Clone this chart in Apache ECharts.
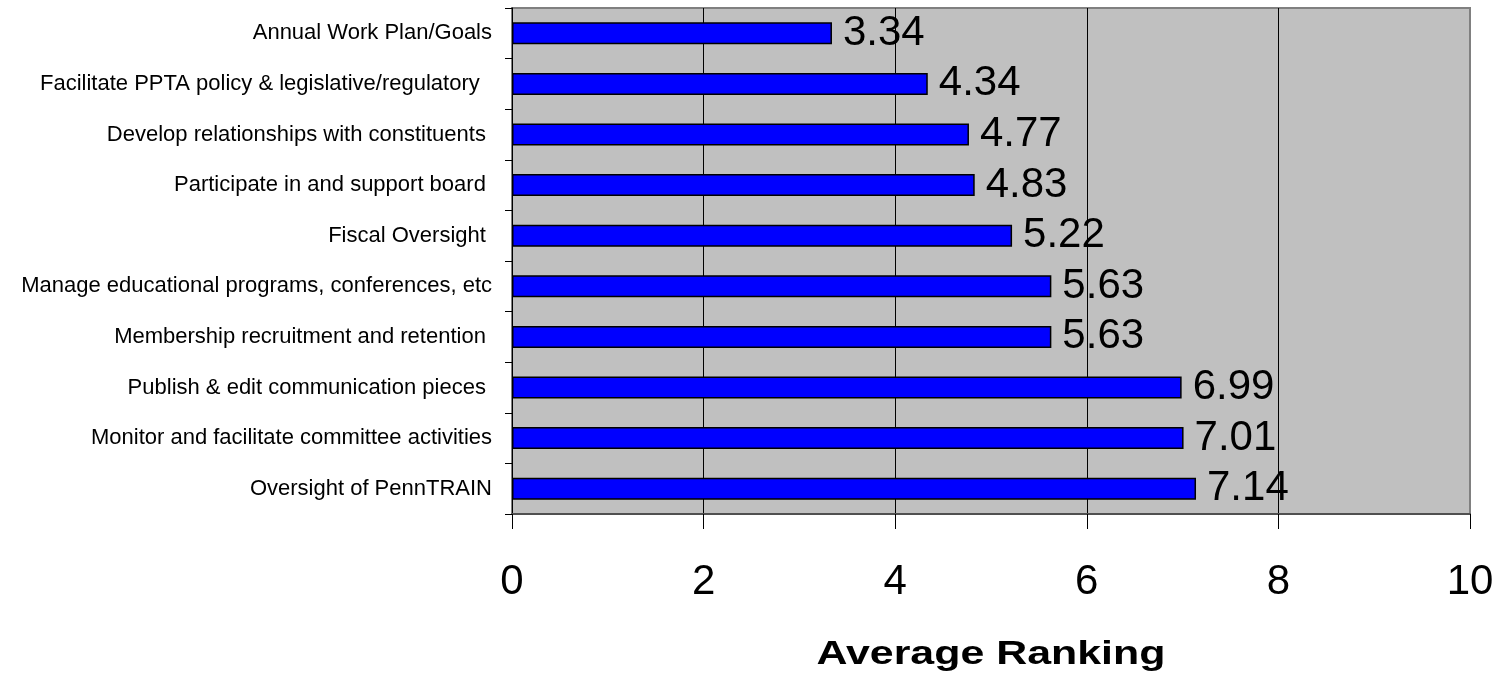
<!DOCTYPE html>
<html>
<head>
<meta charset="utf-8">
<script src="https://cdn.jsdelivr.net/npm/echarts@6/dist/echarts.min.js"></script>
<style>
  html, body { margin: 0; padding: 0; background: #ffffff; }
  #chart { width: 1499px; height: 681px; }
</style>
</head>
<body>
<div id="chart"></div>
<script>
// Duties, listed top to bottom
const categories = [
  'Annual Work Plan/Goals',
  'Facilitate PPTA policy & legislative/regulatory  ',
  'Develop relationships with constituents ',
  'Participate in and support board ',
  'Fiscal Oversight ',
  'Manage educational programs, conferences, etc',
  'Membership recruitment and retention ',
  'Publish & edit communication pieces ',
  'Monitor and facilitate committee activities',
  'Oversight of PennTRAIN'
];

// Average ranking for each duty
const averageRanking = [3.34, 4.34, 4.77, 4.83, 5.22, 5.63, 5.63, 6.99, 7.01, 7.14];

// Value axis ticks
const xTicks = [0, 2, 4, 6, 8, 10];

const axisTitle = 'Average Ranking';

const FONT = '"Liberation Sans", Arial, Helvetica, sans-serif';
const W = 1499, H = 681;
const grid = { left: 512, right: 29, top: 8, bottom: 167 };
const plotCenterX = grid.left + (W - grid.left - grid.right) / 2;

const chart = echarts.init(document.getElementById('chart'), null, { renderer: 'canvas' });

chart.setOption({
  animation: false,
  backgroundColor: '#ffffff',
  grid: {
    left: grid.left,
    right: grid.right,
    top: grid.top,
    bottom: grid.bottom,
    containLabel: false,
    outerBoundsMode: 'none',
    show: true,
    backgroundColor: '#c0c0c0',
    borderColor: '#808080',
    borderWidth: 2
  },
  xAxis: {
    type: 'value',
    min: xTicks[0],
    max: xTicks[xTicks.length - 1],
    interval: xTicks[1] - xTicks[0],
    axisLine: { show: true, lineStyle: { color: '#505050', width: 2 } },
    axisTick: { show: true, length: 15, lineStyle: { color: '#000000', width: 1 } },
    axisLabel: {
      margin: 47,
      fontSize: 42,
      fontFamily: FONT,
      color: '#000000'
    },
    splitLine: {
      show: true,
      showMinLine: false,
      showMaxLine: false,
      lineStyle: { color: '#000000', width: 1 }
    }
  },
  yAxis: {
    type: 'category',
    inverse: true,
    data: categories,
    axisLine: { show: true, lineStyle: { color: '#000000', width: 1 } },
    axisTick: { show: true, length: 7, lineStyle: { color: '#000000', width: 1 } },
    axisLabel: {
      margin: 20,
      fontSize: 22,
      fontFamily: FONT,
      color: '#000000'
    },
    splitLine: { show: false }
  },
  graphic: [{
    type: 'text',
    x: plotCenterX,
    y: 655,
    scaleX: 1.3,
    style: {
      text: axisTitle,
      fontSize: 33,
      fontWeight: 'bold',
      fontFamily: FONT,
      fill: '#000000',
      align: 'center',
      verticalAlign: 'middle'
    }
  }],
  series: [{
    type: 'bar',
    data: averageRanking,
    barWidth: 22,
    itemStyle: {
      color: '#0000ff',
      borderColor: '#000000',
      borderWidth: 1.5
    },
    label: {
      show: true,
      position: 'right',
      distance: 11,
      fontSize: 42,
      fontFamily: FONT,
      color: '#000000',
      formatter: p => p.value.toFixed(2)
    }
  }]
});
</script>
</body>
</html>
